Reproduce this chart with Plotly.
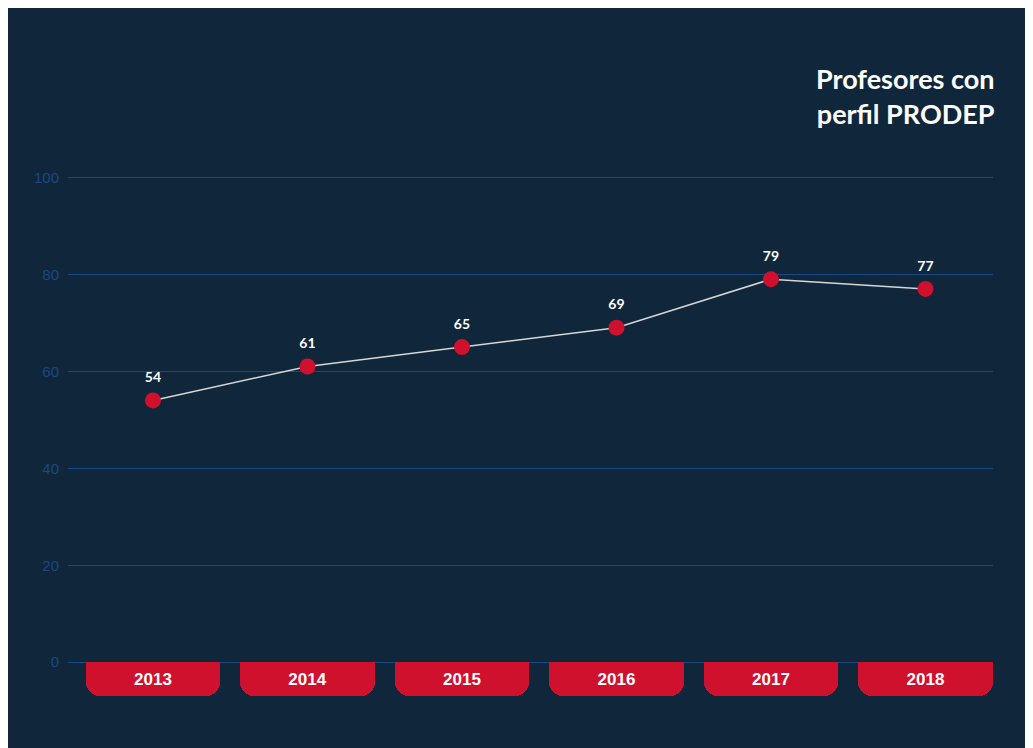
import plotly.graph_objects as go

years = ["2013", "2014", "2015", "2016", "2017", "2018"]
profesores = [54, 61, 65, 69, 79, 77]
tab_depth = [-7, -7, -7, -7, -7, -7]
y_ticks = [0, 20, 40, 60, 80, 100]
title_text = "Profesores con<br>perfil PRODEP"

BG = "#10263b"
RED = "#cf112d"
GRID = "#1a4a85"
TICK = "#1b4783"

fig = go.Figure()

fig.add_trace(go.Bar(
    x=years, y=tab_depth,
    marker=dict(color=RED, line=dict(width=0), cornerradius=14),
    width=0.868,
    text=years, textposition="inside", insidetextanchor="middle",
    textfont=dict(family="Liberation Sans, Arial", size=17, color="white", weight="bold"),
    textangle=0,
    hoverinfo="skip", showlegend=False,
))

fig.add_trace(go.Scatter(
    x=years, y=profesores, mode="lines+markers",
    line=dict(color="#d6d6d6", width=1.5),
    marker=dict(color=RED, size=16, line=dict(width=0)),
    showlegend=False,
))

fig.add_trace(go.Scatter(
    x=years, y=profesores, mode="markers+text",
    marker=dict(size=22, color="rgba(0,0,0,0)"),
    text=[str(v) for v in profesores], textposition="top center",
    textfont=dict(family="Lato, Noto Sans", size=14, color="white", weight="bold"),
    hoverinfo="skip", showlegend=False,
))

fig.update_layout(
    width=1033, height=748,
    paper_bgcolor=BG, plot_bgcolor=BG,
    margin=dict(l=60, r=48, t=150, b=55),
    bargap=0,
    xaxis=dict(range=[-0.55, 5.437], showgrid=False, showticklabels=False,
               zeroline=False, showline=False, fixedrange=True),
    yaxis=dict(range=[-8, 104], tickvals=y_ticks, showgrid=True, gridcolor=GRID,
               gridwidth=1, zeroline=False, showline=False,
               tickfont=dict(family="Liberation Sans, Arial", size=15, color=TICK),
               ticklabelstandoff=8),
    annotations=[dict(
        text=title_text, xref="paper", yref="paper", x=1.004, y=1.0,
        xanchor="right", yanchor="bottom", yshift=26, align="right", showarrow=False,
        font=dict(family="Lato, Noto Sans", size=27, color="white", weight="bold"),
    )],
)

fig.write_html("out.html")
